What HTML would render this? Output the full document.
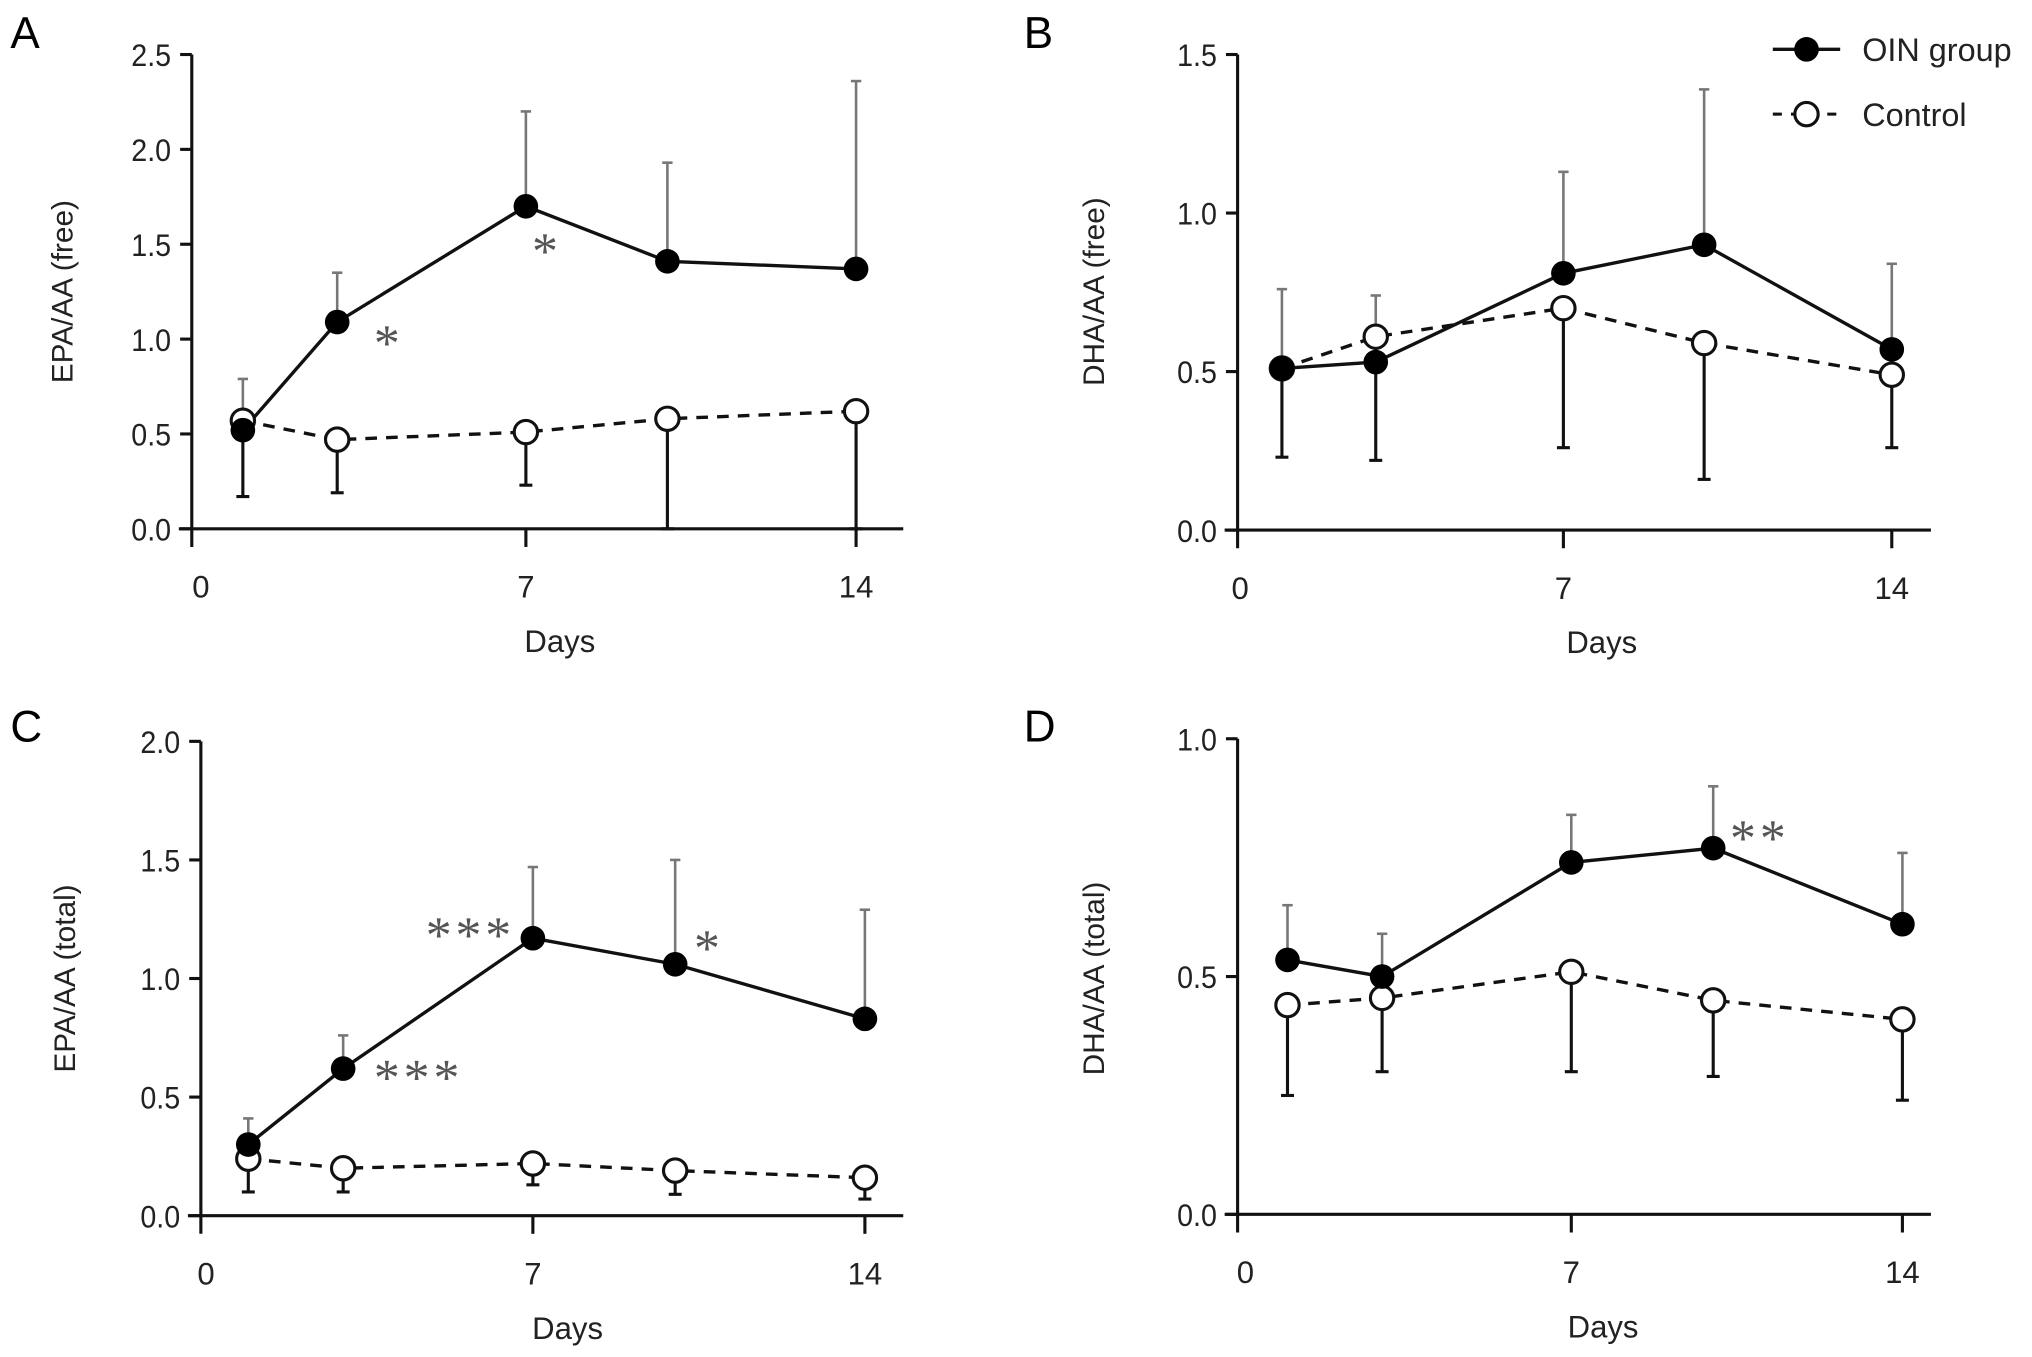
<!DOCTYPE html>
<html><head><meta charset="utf-8"><style>
html,body{margin:0;padding:0;background:#fff;}
svg{display:block;font-family:"Liberation Sans",sans-serif;}
</style></head><body>
<svg id="fig" width="2032" height="1357" viewBox="0 0 1568 1047" xmlns="http://www.w3.org/2000/svg"></svg>
<script>
const days = [1, 3, 7, 10, 14];
const xTickLabels = [0, 7, 14];
// Panel A
const aOin = [0.52, 1.09, 1.70, 1.41, 1.37];
const aOinUpper = [0.79, 1.35, 2.20, 1.93, 2.36];
const aCtl = [0.57, 0.47, 0.51, 0.58, 0.62];
const aCtlLower = [0.17, 0.19, 0.23, 0.0, 0.0];
const aTicks = [0.0, 0.5, 1.0, 1.5, 2.0, 2.5];
// Panel B
const bOin = [0.51, 0.53, 0.81, 0.90, 0.57];
const bOinUpper = [0.76, 0.74, 1.13, 1.39, 0.84];
const bCtl = [0.51, 0.61, 0.70, 0.59, 0.49];
const bCtlLower = [0.23, 0.22, 0.26, 0.16, 0.26];
const bTicks = [0.0, 0.5, 1.0, 1.5];
// Panel C
const cOin = [0.30, 0.62, 1.17, 1.06, 0.83];
const cOinUpper = [0.41, 0.76, 1.47, 1.50, 1.29];
const cCtl = [0.24, 0.20, 0.22, 0.19, 0.16];
const cCtlLower = [0.10, 0.10, 0.13, 0.09, 0.07];
const cTicks = [0.0, 0.5, 1.0, 1.5, 2.0];
// Panel D
const dOin = [0.535, 0.50, 0.74, 0.77, 0.61];
const dOinUpper = [0.65, 0.59, 0.84, 0.90, 0.76];
const dCtl = [0.44, 0.455, 0.51, 0.45, 0.41];
const dCtlLower = [0.25, 0.30, 0.30, 0.29, 0.24];
const dTicks = [0.0, 0.5, 1.0];

const NS = "http://www.w3.org/2000/svg";
const svg = document.getElementById('fig');
function mk(tag, attrs, parent){const e=document.createElementNS(NS,tag);for(const k in attrs)e.setAttribute(k,attrs[k]);(parent||svg).appendChild(e);return e;}

function panel(cfg){
  const g = mk('g',{});
  
  
  const xs = d => cfg.x0 + d*cfg.dx;
  const ys = v => cfg.y0 - (v/cfg.ymax)*(cfg.y0-cfg.ytop);
  const letter = mk('text',{x:cfg.lx,y:cfg.ly,'font-size':34},g); letter.textContent=cfg.letter;
  
  
  const ya = mk('line',{x1:cfg.ax,y1:cfg.ytop,x2:cfg.ax,y2:cfg.y0+14,stroke:'#111','stroke-width':2.4},g);
  
  
  const xa = mk('line',{x1:cfg.ax-10,y1:cfg.y0,x2:cfg.xend,y2:cfg.y0,stroke:'#111','stroke-width':2.4},g);
  
  
  cfg.ticks.forEach(t=>{
    mk('line',{x1:cfg.ax-9,y1:ys(t),x2:cfg.ax,y2:ys(t),stroke:'#111','stroke-width':2.4},g);
    const tx = mk('text',{x:cfg.ax-16,y:ys(t)+9,'font-size':24,'text-anchor':'end',fill:'#222',transform:`translate(${cfg.ax-16},0) scale(0.92,1) translate(${-(cfg.ax-16)},0)`},g);
    tx.textContent=t.toFixed(1);
    
    
  });
  xTickLabels.forEach(t=>{
    if(t>0) mk('line',{x1:xs(t),y1:cfg.y0,x2:xs(t),y2:cfg.y0+14,stroke:'#111','stroke-width':2.4},g);
    const tx = mk('text',{x:xs(t)+(t==0?4:0),y:cfg.y0+53,'font-size':24,'text-anchor':'middle',fill:'#222'},g);
    tx.textContent=t;
    
    
  });
  const xt = mk('text',{x:cfg.xtx,y:cfg.y0+95,'font-size':24,'text-anchor':'middle',fill:'#222'},g);
  xt.textContent='Days';
  
  
  const yt = mk('text',{x:0,y:0,'font-size':23,'text-anchor':'middle',fill:'#222',transform:`translate(${cfg.ytx},${cfg.yty}) rotate(-90)`},g);
  yt.textContent=cfg.ytitle;
  
  
  days.forEach((d,i)=>{
    const up = mk('line',{x1:xs(d),y1:ys(cfg.oin[i]),x2:xs(d),y2:ys(cfg.oinUp[i]),stroke:'#777','stroke-width':2},g);
    
    
    mk('line',{x1:xs(d)-4,y1:ys(cfg.oinUp[i]),x2:xs(d)+4,y2:ys(cfg.oinUp[i]),stroke:'#777','stroke-width':2},g);
    const lo = mk('line',{x1:xs(d),y1:ys(cfg.ctl[i]),x2:xs(d),y2:ys(cfg.ctlLo[i]),stroke:'#111','stroke-width':2.4},g);
    
    
    mk('line',{x1:xs(d)-5,y1:ys(cfg.ctlLo[i]),x2:xs(d)+5,y2:ys(cfg.ctlLo[i]),stroke:'#111','stroke-width':2.4},g);
  });
  const cl = mk('polyline',{points:days.map((d,i)=>xs(d)+','+ys(cfg.ctl[i])).join(' '),fill:'none',stroke:'#111','stroke-width':2.6,'stroke-dasharray':'9,7'},g);
  
  
  const ol = mk('polyline',{points:days.map((d,i)=>xs(d)+','+ys(cfg.oin[i])).join(' '),fill:'none',stroke:'#111','stroke-width':2.6},g);
  
  
  days.forEach((d,i)=>{
    const c = mk('circle',{cx:xs(d),cy:ys(cfg.ctl[i]),r:9,fill:'#fff',stroke:'#111','stroke-width':2.4},g);
    
    
  });
  days.forEach((d,i)=>{
    const c = mk('circle',{cx:xs(d),cy:ys(cfg.oin[i]),r:9.5,fill:'#000'},g);
    
    
  });
  cfg.stars.forEach(s=>{
    const t = mk('text',{x:s[0],y:s[1],'font-family':'"Liberation Serif",serif','font-size':40,fill:'#555','text-anchor':'middle','letter-spacing':3},g);
    t.textContent=s[2];
    
    
  });
}

panel({letter:'A',lx:8,ly:37,ax:148,x0:151,dx:36.4,y0:408,ytop:42,ymax:2.5,xend:697,ticks:aTicks,
  oin:aOin,oinUp:aOinUpper,ctl:aCtl,ctlLo:aCtlLower,ytitle:'EPA/AA (free)',ytx:56,yty:225,xtx:432,
  stars:[[300,278,'*'],[422,207,'*']]});
panel({letter:'B',lx:790,ly:37,ax:955,x0:953,dx:36.2,y0:409,ytop:42,ymax:1.5,xend:1490,ticks:bTicks,
  oin:bOin,oinUp:bOinUpper,ctl:bCtl,ctlLo:bCtlLower,ytitle:'DHA/AA (free)',ytx:852,yty:225,xtx:1236,stars:[]});
panel({letter:'C',lx:8,ly:572,ax:155,x0:155,dx:36.6,y0:938,ytop:572,ymax:2.0,xend:697,ticks:cTicks,
  oin:cOin,oinUp:cOinUpper,ctl:cCtl,ctlLo:cCtlLower,ytitle:'EPA/AA (total)',ytx:58,yty:755,xtx:438,
  stars:[[363,735,'***'],[323,845,'***'],[547,745,'*']]});
panel({letter:'D',lx:790,ly:572,ax:955,x0:957,dx:36.5,y0:937,ytop:570,ymax:1.0,xend:1490,ticks:dTicks,
  oin:dOin,oinUp:dOinUpper,ctl:dCtl,ctlLo:dCtlLower,ytitle:'DHA/AA (total)',ytx:852,yty:755,xtx:1237,
  stars:[[1358,660,'**']]});

const lg = mk('g',{});


mk('line',{x1:1368,y1:38,x2:1420,y2:38,stroke:'#111','stroke-width':2.6},lg);
mk('circle',{cx:1394,cy:38,r:9.5,fill:'#000'},lg);
const t1 = mk('text',{x:1437,y:47,'font-size':25,fill:'#222'},lg); t1.textContent='OIN group';


mk('line',{x1:1368,y1:88,x2:1420,y2:88,stroke:'#111','stroke-width':2.4,'stroke-dasharray':'7,7'},lg);
mk('circle',{cx:1394,cy:88,r:9,fill:'#fff',stroke:'#111','stroke-width':2.4},lg);
const t2 = mk('text',{x:1437,y:97,'font-size':25,fill:'#222'},lg); t2.textContent='Control';


</script>
</body></html>
